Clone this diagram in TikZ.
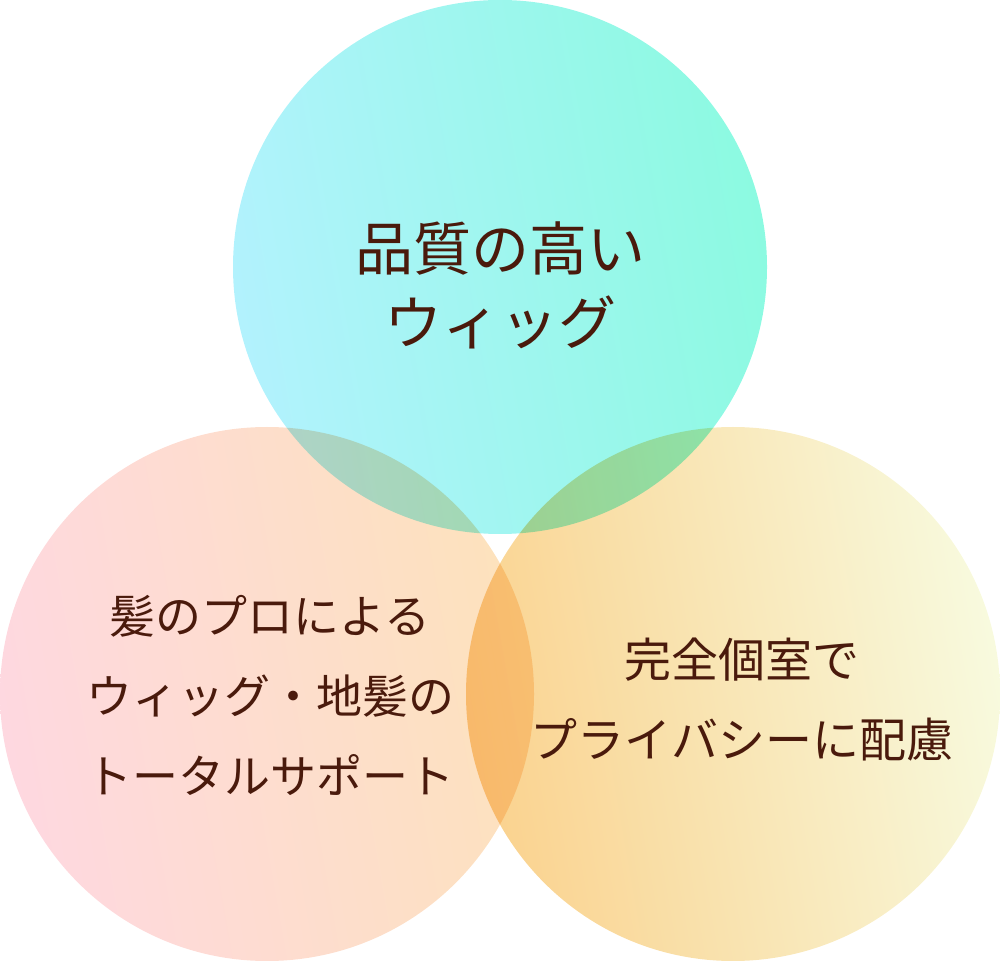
\documentclass[tikz,border=0pt]{standalone}
\usepackage{fontspec}
\setmainfont{Noto Sans CJK JP}
\definecolor{topleft}{RGB}{178,242,253}
\definecolor{topright}{RGB}{140,250,225}
\definecolor{pinkleft}{RGB}{254,216,224}
\definecolor{pinkright}{RGB}{253,226,188}
\definecolor{orangeleft}{RGB}{250,210,142}
\definecolor{orangeright}{RGB}{248,250,222}
\definecolor{textbrown}{RGB}{74,26,12}
\begin{document}
\begin{tikzpicture}[x=0.5pt,y=-0.5pt,
    circletext/.style={text=textbrown,align=center,inner sep=0pt}]
    \useasboundingbox (0,0) rectangle (1000,961);
    \begin{scope}[blend group=multiply]
      \shade[left color=pinkleft,right color=pinkright,shading angle=100] (267,694) circle[radius=133.5pt];
      \shade[left color=orangeleft,right color=orangeright,shading angle=100] (733,694) circle[radius=133.5pt];
      \shade[left color=topleft,right color=topright,shading angle=100] (500,267) circle[radius=133.5pt];
    \end{scope}
    \node[circletext,font=\fontsize{29pt}{37pt}\selectfont] (quality) at (500,285) {品質の高い\\ウィッグ};
    \node[circletext,font=\fontsize{23pt}{40pt}\selectfont] (support) at (270,695) {髪のプロによる\\ウィッグ・地髪の\\トータルサポート};
    \node[circletext,font=\fontsize{23.5pt}{40pt}\selectfont] (privacy) at (742,700) {完全個室で\\プライバシーに配慮};
  \end{tikzpicture}
\end{document}
